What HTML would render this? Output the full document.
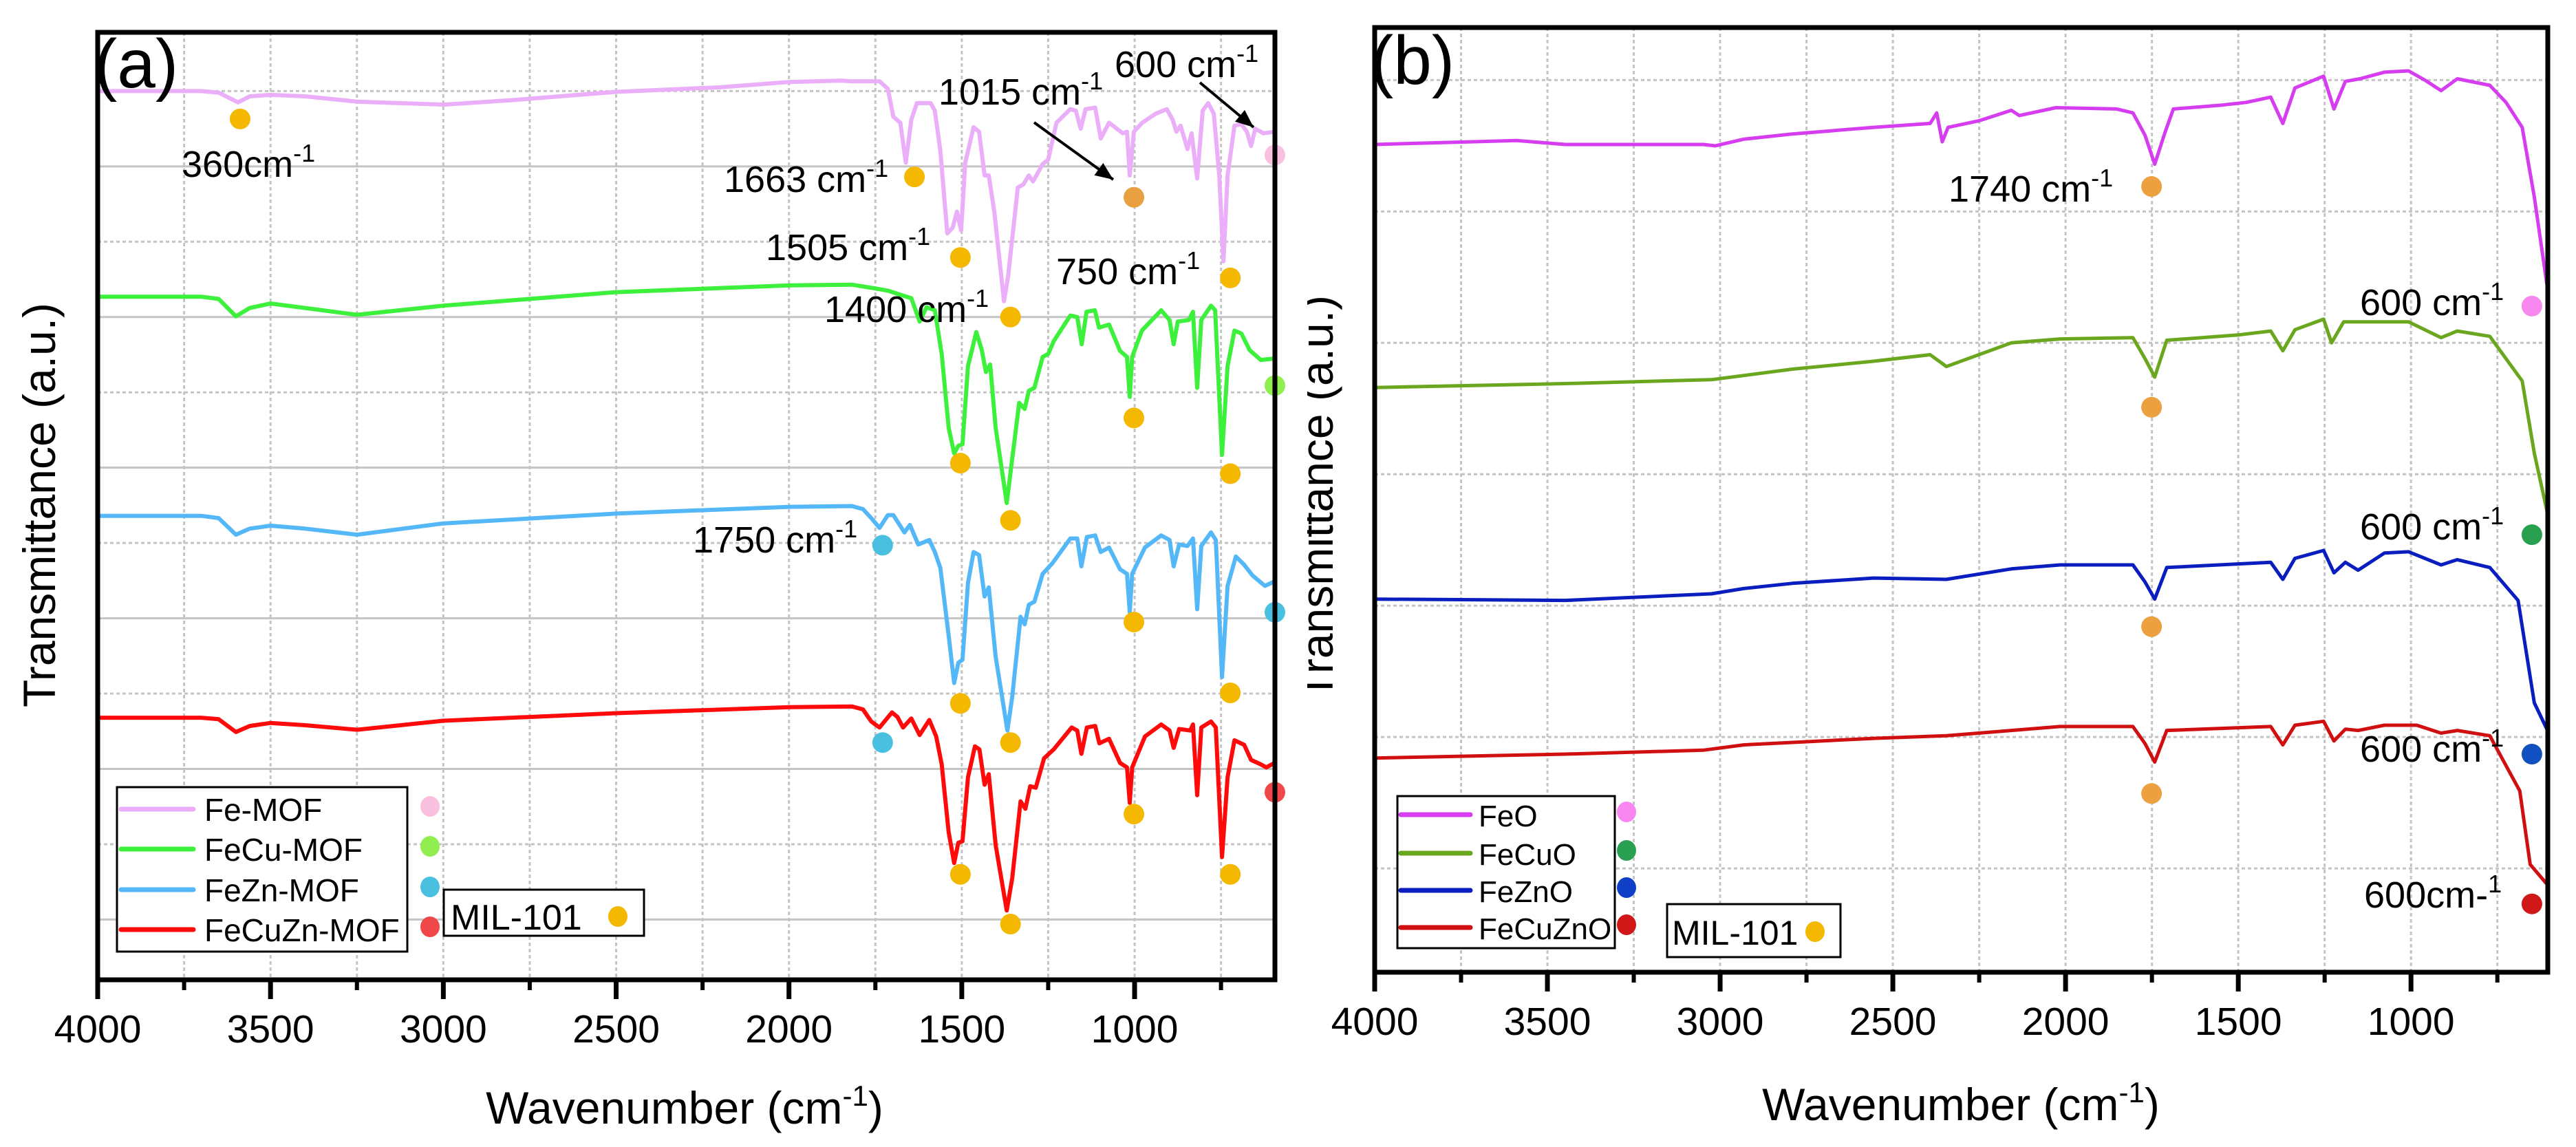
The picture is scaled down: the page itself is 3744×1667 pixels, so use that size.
<!DOCTYPE html>
<html><head><meta charset="utf-8">
<style>
html,body{margin:0;padding:0;background:#fff;}
svg{display:block;font-family:"Liberation Sans",Arial,sans-serif;}
</style></head>
<body>
<svg id="fig" xmlns="http://www.w3.org/2000/svg" width="3744" height="1667" viewBox="0 0 3744 1667">
<defs><clipPath id="clipB"><rect x="1900" y="0" width="1844" height="1667"/></clipPath></defs>
<g id="clipGroupB" clip-path="url(#clipB)"></g>
</svg>
<script>
// ---------- Panel (a) data: [wavenumber, transmittance a.u.] ----------
const feMOF = [[4000,12.0],[3700,12.0],[3650,11.98],[3594,11.85],[3560,11.93],[3500,11.95],[3400,11.93],[3250,11.86],[3000,11.82],[2800,11.88],[2500,11.99],[2200,12.05],[2000,12.12],[1850,12.14],[1818,12.13],[1738,12.13],[1714,12.03],[1698,11.66],[1678,11.58],[1662,11.05],[1646,11.62],[1630,11.84],[1590,11.84],[1578,11.74],[1562,11.21],[1542,10.11],[1526,10.19],[1514,10.40],[1502,10.15],[1490,11.05],[1466,11.52],[1450,11.46],[1434,10.88],[1422,10.88],[1406,10.40],[1378,9.21],[1366,9.54],[1338,10.72],[1322,10.76],[1306,10.88],[1294,10.80],[1266,11.03],[1250,11.09],[1226,11.58],[1186,11.76],[1170,11.74],[1156,11.50],[1142,11.76],[1114,11.78],[1098,11.37],[1074,11.58],[1034,11.44],[1022,11.46],[1014,10.88],[1002,11.46],[978,11.58],[939,11.70],[907,11.76],[890,11.62],[879,11.46],[867,11.54],[847,11.23],[835,11.44],[819,10.84],[803,11.74],[787,11.84],[771,11.70],[755,10.88],[743,9.74],[731,10.88],[711,11.54],[691,11.56],[675,11.46],[663,11.27],[651,11.50],[627,11.44],[595,11.46]];
const feCuMOF = [[4000,9.27],[3700,9.27],[3650,9.24],[3600,9.01],[3560,9.12],[3500,9.18],[3400,9.12],[3250,9.03],[3000,9.15],[2500,9.33],[2000,9.42],[1818,9.43],[1738,9.37],[1714,9.35],[1674,9.29],[1646,9.25],[1622,8.94],[1602,9.13],[1578,9.09],[1558,8.51],[1538,7.53],[1522,7.19],[1510,7.29],[1498,7.31],[1482,8.35],[1458,8.80],[1442,8.56],[1430,8.27],[1418,8.37],[1402,7.53],[1370,6.53],[1354,7.12],[1334,7.86],[1318,7.78],[1306,8.02],[1290,8.06],[1266,8.47],[1250,8.51],[1234,8.68],[1186,9.02],[1166,9.00],[1153,8.64],[1139,9.07],[1115,9.09],[1103,8.86],[1074,8.90],[1042,8.55],[1022,8.47],[1014,7.94],[1007,8.47],[979,8.82],[923,9.09],[899,8.96],[887,8.64],[875,8.94],[843,8.96],[831,9.07],[819,8.06],[807,8.96],[779,9.15],[767,9.09],[747,7.17],[731,8.35],[711,8.82],[691,8.78],[667,8.56],[635,8.43],[595,8.45]];
const feZnMOF = [[4000,6.36],[3700,6.36],[3650,6.33],[3600,6.11],[3560,6.19],[3500,6.23],[3400,6.19],[3250,6.11],[3000,6.26],[2500,6.39],[2000,6.48],[1818,6.49],[1786,6.45],[1762,6.33],[1738,6.20],[1714,6.37],[1698,6.37],[1666,6.14],[1650,6.24],[1626,5.98],[1594,6.04],[1578,5.88],[1562,5.67],[1538,4.77],[1522,4.14],[1510,4.41],[1498,4.45],[1482,5.47],[1466,5.88],[1450,5.84],[1434,5.29],[1422,5.41],[1402,4.49],[1368,3.51],[1354,3.96],[1330,5.02],[1318,4.92],[1306,5.18],[1290,5.22],[1266,5.59],[1238,5.73],[1186,6.06],[1166,6.06],[1154,5.69],[1138,6.08],[1114,6.10],[1098,5.88],[1074,5.94],[1042,5.65],[1022,5.59],[1014,5.08],[1007,5.59],[970,5.94],[923,6.10],[899,6.04],[887,5.69],[871,5.98],[847,5.96],[831,6.06],[819,5.12],[807,5.96],[779,6.14],[765,6.04],[747,4.22],[731,5.43],[707,5.82],[683,5.71],[659,5.57],[623,5.43],[595,5.49]];
const feCuZnMOF = [[4000,3.68],[3700,3.68],[3650,3.66],[3600,3.49],[3560,3.57],[3500,3.61],[3400,3.58],[3250,3.52],[3000,3.64],[2500,3.74],[2000,3.82],[1818,3.83],[1786,3.79],[1762,3.63],[1738,3.55],[1702,3.75],[1686,3.69],[1670,3.55],[1646,3.67],[1622,3.45],[1594,3.65],[1574,3.43],[1558,3.06],[1538,2.16],[1522,1.75],[1510,2.02],[1498,2.04],[1482,2.89],[1462,3.30],[1449,3.26],[1434,2.79],[1422,2.93],[1402,1.99],[1370,1.12],[1354,1.55],[1330,2.57],[1316,2.47],[1302,2.77],[1286,2.75],[1262,3.14],[1234,3.26],[1182,3.55],[1166,3.51],[1154,3.20],[1138,3.55],[1114,3.57],[1102,3.34],[1074,3.40],[1042,3.08],[1022,3.02],[1014,2.55],[1007,3.02],[970,3.43],[923,3.59],[899,3.51],[887,3.28],[871,3.53],[839,3.51],[831,3.59],[819,2.65],[807,3.55],[779,3.63],[765,3.55],[747,1.83],[731,2.89],[711,3.38],[683,3.32],[663,3.12],[635,3.06],[619,3.02],[595,3.08]];
const markersA = [[3588,11.63,"#f5b800"],[1637,10.86,"#f5b800"],[1504,9.79,"#f5b800"],[1359,9.0,"#f5b800"],[1002,10.59,"#e8a040"],[723,9.52,"#f5b800"],[594,11.15,"#f9c0e0"],
 [1504,7.06,"#f5b800"],[1359,6.30,"#f5b800"],[1002,7.66,"#f5b800"],[723,6.92,"#f5b800"],[594,8.09,"#90ee50"],
 [1729,5.97,"#4ac0e0"],[1504,3.87,"#f5b800"],[1359,3.35,"#f5b800"],[1002,4.95,"#f5b800"],[723,4.01,"#f5b800"],[594,5.08,"#4ac0e0"],
 [1729,3.35,"#4ac0e0"],[1504,1.60,"#f5b800"],[1359,0.94,"#f5b800"],[1002,2.40,"#f5b800"],[723,1.60,"#f5b800"],[594,2.69,"#f04848"]];

// ---------- Panel (b) data ----------
const feO = [[4000,6.51],[3589,6.54],[3448,6.51],[3049,6.51],[3014,6.50],[2932,6.55],[2791,6.59],[2556,6.64],[2392,6.67],[2373,6.75],[2357,6.53],[2340,6.64],[2251,6.69],[2157,6.77],[2134,6.73],[2028,6.79],[1852,6.78],[1805,6.75],[1770,6.58],[1742,6.36],[1711,6.61],[1688,6.78],[1547,6.81],[1477,6.83],[1406,6.87],[1371,6.67],[1336,6.94],[1253,7.03],[1223,6.78],[1190,6.99],[1148,7.01],[1077,7.06],[1007,7.07],[960,7.00],[913,6.92],[866,7.01],[772,6.96],[725,6.83],[678,6.64],[643,6.11],[603,5.38]];
const feCuO = [[4000,4.66],[3448,4.69],[3025,4.72],[2791,4.80],[2556,4.86],[2392,4.91],[2345,4.82],[2157,5.00],[2016,5.03],[1805,5.04],[1770,4.88],[1742,4.74],[1707,5.02],[1500,5.06],[1406,5.09],[1371,4.94],[1336,5.10],[1253,5.18],[1230,5.00],[1195,5.16],[1007,5.16],[913,5.04],[866,5.09],[772,5.05],[678,4.71],[643,4.16],[603,3.68]];
const feZnO = [[4000,3.05],[3448,3.04],[3025,3.09],[2932,3.13],[2791,3.17],[2556,3.21],[2345,3.20],[2157,3.28],[2016,3.31],[1805,3.31],[1770,3.18],[1742,3.05],[1707,3.29],[1406,3.33],[1371,3.20],[1336,3.36],[1253,3.42],[1223,3.25],[1190,3.33],[1153,3.27],[1077,3.40],[1007,3.41],[913,3.31],[866,3.35],[772,3.29],[690,3.04],[643,2.26],[603,2.04]];
const feCuZnO = [[4000,1.84],[3448,1.87],[3049,1.90],[2932,1.94],[2556,1.99],[2345,2.01],[2157,2.05],[2016,2.08],[1805,2.08],[1770,1.95],[1742,1.81],[1707,2.05],[1406,2.08],[1371,1.94],[1336,2.09],[1253,2.12],[1223,1.97],[1190,2.06],[1153,2.05],[1077,2.09],[983,2.09],[913,2.03],[866,2.05],[772,2.01],[685,1.59],[655,1.03],[603,0.87]];
const markersB = [[1751,6.19,"#eca040"],[1751,4.51,"#eca040"],[1751,2.84,"#eca040"],[1751,1.57,"#eca040"],[650,5.28,"#f888f0"],[650,3.54,"#28a050"],[650,1.87,"#1050c0"],[650,0.73,"#d01818"]];

const xTickLabels = [4000,3500,3000,2500,2000,1500,1000];
const xMinorTicks = [3750,3250,2750,2250,1750,1250,750];

const NS = "http://www.w3.org/2000/svg";
const svg = document.getElementById("fig");
function mk(tag, attrs, parent){const e=document.createElementNS(NS,tag);for(const k in attrs)e.setAttribute(k,attrs[k]);(parent||svg).appendChild(e);return e;}

function panel(cfg){
  const g = mk("g",{});
  
  
  const X = w => cfg.left + (cfg.wMax - w) / (cfg.wMax - cfg.wMin) * (cfg.right - cfg.left);
  const Y = t => cfg.bottom - (t - cfg.tMin) / (cfg.tMax - cfg.tMin) * (cfg.bottom - cfg.top);
  const grid = mk("g",{},g);
  
  
  for (const w of xTickLabels.concat(xMinorTicks)) {
    if (w >= cfg.wMax || w <= cfg.wMin) continue;
    const l = mk("line",{x1:X(w),x2:X(w),y1:cfg.top,y2:cfg.bottom,stroke:"#c4c4c4","stroke-width":3,"stroke-dasharray":"5 4"},grid);
    
    
  }
  for (let t=1; t<=cfg.nGrid; t++) {
    const solid = cfg.altGrid && (t % 2 === 1);
    const l = mk("line",{x1:cfg.left,x2:cfg.right,y1:Y(t),y2:Y(t),stroke:"#c4c4c4","stroke-width":3,"stroke-dasharray":solid?"none":"5 4"},grid);
    
    
  }
  cfg.series.forEach(s => {
    const d = s.data.map((p,i)=>(i?"L":"M")+X(p[0]).toFixed(1)+" "+Y(p[1]).toFixed(1)).join(" ");
    const p = mk("path",{d:d,fill:"none",stroke:s.color,"stroke-width":cfg.lw,"stroke-linejoin":"round","stroke-linecap":"round"},g);
    
    
  });
  cfg.markers.forEach(m => {
    const c = mk("ellipse",{cx:X(m[0]),cy:Y(m[1]),rx:15,ry:15,fill:m[2]},g);
    
    
  });
  const fr = mk("rect",{x:cfg.left,y:cfg.top,width:cfg.right-cfg.left,height:cfg.bottom-cfg.top,fill:"none",stroke:"#000","stroke-width":7},g);
  
  
  xTickLabels.forEach(w => {
    const t = mk("line",{x1:X(w),x2:X(w),y1:cfg.bottom,y2:cfg.bottom+28,stroke:"#000","stroke-width":7},g);
    
    
    const lb = mk("text",{x:X(w),y:cfg.tickY,"font-size":57,"text-anchor":"middle",fill:"#000"},g);
    lb.textContent = w;
    
    
  });
  xMinorTicks.forEach(w => {
    const t = mk("line",{x1:X(w),x2:X(w),y1:cfg.bottom,y2:cfg.bottom+15,stroke:"#000","stroke-width":6},g);
    
    
  });
  return {X,Y,g};
}

const A = panel({name:"panel-a",left:142,right:1853,top:47,bottom:1424,wMax:4000,wMin:594,tMin:0.2,tMax:12.78,nGrid:12,altGrid:true,lw:6,tickY:1515,
  series:[{id:"fe-mof",data:feMOF,color:"#ebaef8"},{id:"fecu-mof",data:feCuMOF,color:"#3cf03c"},{id:"fezn-mof",data:feZnMOF,color:"#54b8f8"},{id:"fecuzn-mof",data:feCuZnMOF,color:"#ff0a0a"}],
  markers:markersA});
const B = panel({name:"panel-b",left:1998,right:3703,top:40,bottom:1413,wMax:4000,wMin:604,tMin:0.21,tMax:7.40,nGrid:7,altGrid:false,lw:5,tickY:1504,
  series:[{id:"feo",data:feO,color:"#d63cf0"},{id:"fecuo",data:feCuO,color:"#6aa61e"},{id:"fezno",data:feZnO,color:"#0a1ec0"},{id:"fecuzno",data:feCuZnO,color:"#d01010"}],
  markers:markersB});

function txt(x,y,s,size,name,anchor,rot,parent){
  const t = mk("text",{x:x,y:y,"font-size":size,fill:"#000","text-anchor":anchor||"start"},parent);
  if(rot) t.setAttribute("transform","rotate(-90 "+x+" "+y+")");
  t.innerHTML = s;
  
  
  return t;
}
const sup = '<tspan dy="-22" font-size="36">-1</tspan>';
const sup2 = '<tspan dy="-22" font-size="36">1</tspan>';
txt(137,127,"(a)",100,"panel-a-label");
txt(264,257,"360cm"+sup,54,"annotation-360");
txt(1052,279,"1663 cm"+sup,54,"annotation-1663");
txt(1113,378,"1505 cm"+sup,54,"annotation-1505");
txt(1198,468,"1400 cm"+sup,54,"annotation-1400");
txt(1364,152,"1015 cm"+sup,54,"annotation-1015");
txt(1620,112,"600 cm"+sup,54,"annotation-600-a");
txt(1535,413,"750 cm"+sup,54,"annotation-750");
txt(1007,803,"1750 cm"+sup,54,"annotation-1750");
[[1503,178,1618,261,"arrow-1015"],[1744,120,1822,185,"arrow-600"]].forEach(a=>{
  const l = mk("line",{x1:a[0],y1:a[1],x2:a[2],y2:a[3],stroke:"#000","stroke-width":4});
  
  
  const ang = Math.atan2(a[3]-a[1],a[2]-a[0]);
  const L=26,W=11;
  const bx=a[2]-L*Math.cos(ang), by=a[3]-L*Math.sin(ang);
  const pts=[[a[2],a[3]],[bx-W*Math.sin(ang),by+W*Math.cos(ang)],[bx+W*Math.sin(ang),by-W*Math.cos(ang)]].map(p=>p.join(",")).join(" ");
  const h = mk("polygon",{points:pts,fill:"#000"});
  
  
});
txt(80,734,"Transmittance (a.u.)",66,"y-axis-title-a","middle",true);
txt(995,1633,'Wavenumber (cm<tspan dy="-26" font-size="42">-1</tspan><tspan dy="26">)</tspan>',66,"x-axis-title-a","middle");
txt(1937,723,"Transmittance (a.u.)",66,"y-axis-title-b","middle",true,document.getElementById("clipGroupB"));
txt(2850,1628,'Wavenumber (cm<tspan dy="-26" font-size="42">-1</tspan><tspan dy="26">)</tspan>',66,"x-axis-title-b","middle");
txt(1992,122,"(b)",100,"panel-b-label");
txt(2832,293,"1740 cm"+sup,54,"annotation-1740");
txt(3430,458,"600 cm"+sup,54,"annotation-600-feo");
txt(3430,784,"600 cm"+sup,54,"annotation-600-fecuo");
txt(3430,1107,"600 cm"+sup,54,"annotation-600-fezno");
txt(3436,1319,"600cm-"+sup2,54,"annotation-600-fecuzno");

function legend(box, entries, lineX1, lineX2, textX, dotX, ys, fs, name){
  const r = mk("rect",{x:box[0],y:box[1],width:box[2]-box[0],height:box[3]-box[1],fill:"#fff",stroke:"#000","stroke-width":3});
  
  
  entries.forEach((e,i)=>{
    const l = mk("line",{x1:lineX1,x2:lineX2,y1:ys[i],y2:ys[i],stroke:e[1],"stroke-width":7,"stroke-linecap":"round"});
    
    
    txt(textX,ys[i]+17,e[0],fs,"legend-entry");
    const c = mk("ellipse",{cx:dotX,cy:ys[i]-4,rx:14,ry:15,fill:e[2]});
    
    
  });
}
legend([170,1144,592,1383],[["Fe-MOF","#ebaef8","#f9c0e0"],["FeCu-MOF","#3cf03c","#90ee50"],["FeZn-MOF","#54b8f8","#4ac0e0"],["FeCuZn-MOF","#ff0a0a","#f04848"]],176,281,297,625,[1176,1234,1293,1351],46,"legend-a");
legend([2031,1157,2347,1378],[["FeO","#d63cf0","#f888f0"],["FeCuO","#6aa61e","#28a050"],["FeZnO","#0a1ec0","#1040c8"],["FeCuZnO","#d01010","#d01818"]],2036,2137,2149,2364,[1184,1240,1294,1348],44,"legend-b");
[[645,1293,936,1360,655,898,1332,52],[2423,1314,2675,1391,2430,2638,1354,50]].forEach((m,i)=>{
  const r = mk("rect",{x:m[0],y:m[1],width:m[2]-m[0],height:m[3]-m[1],fill:"#fff",stroke:"#000","stroke-width":3});
  
  
  txt(m[4],m[6]+19,"MIL-101",m[7],"mil-101-label");
  const c = mk("ellipse",{cx:m[5],cy:m[6],rx:14,ry:15,fill:"#f5b800"});
  
  
});
</script>
</body></html>
